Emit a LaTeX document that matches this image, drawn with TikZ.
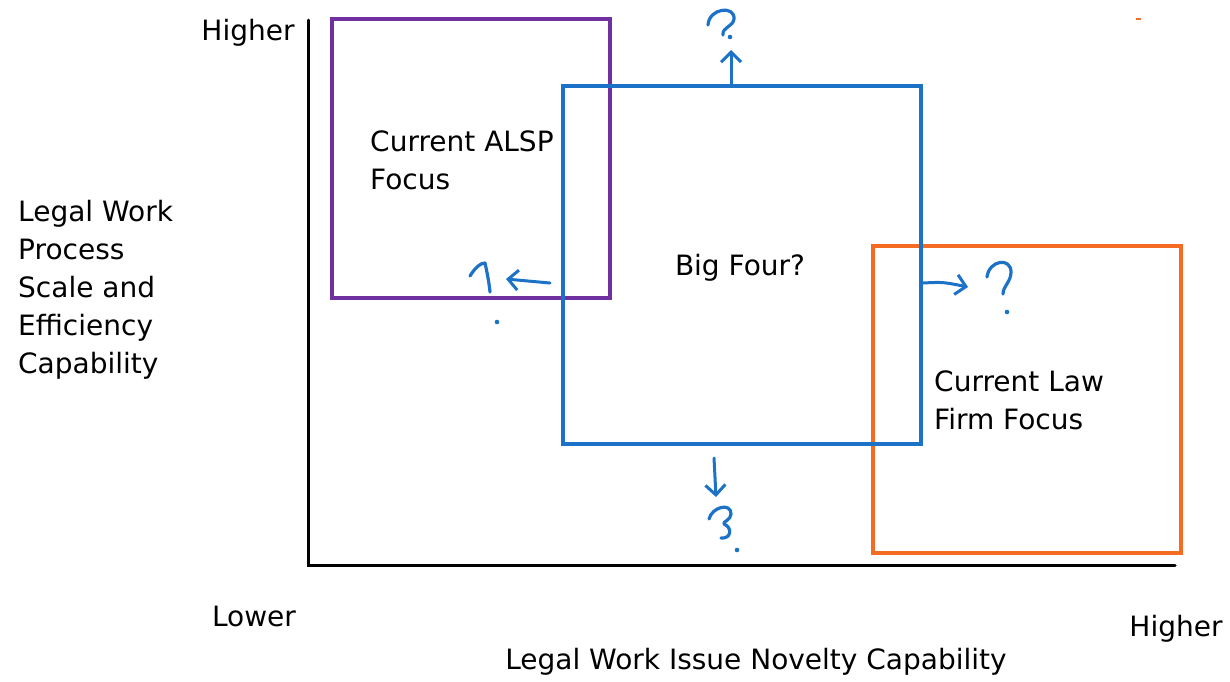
\documentclass[tikz,border=0pt]{standalone}
\usepackage{fontspec}
\setmainfont{DejaVu Sans}
\usetikzlibrary{arrows.meta,calc}
\definecolor{alspc}{HTML}{7030A0}
\definecolor{bigc}{HTML}{1B72C6}
\definecolor{lawc}{HTML}{F36C21}
\begin{document}
\begin{tikzpicture}[x=1pt,y=-1pt,
  lbl/.style={font=\fontsize{28}{38}\selectfont, inner sep=0pt, align=left},
  box/.style={line width=4pt, inner sep=0pt, fill=none},
  axis/.style={line width=3pt, black, line cap=round},
  qarrow/.style={bigc, line width=3pt, line cap=round, line join=round, -{Straight Barb[length=10pt,width=20pt,line width=3pt]}},
  qmark/.style={bigc, line width=3.2pt, line cap=round, line join=round},
  qdot/.style={bigc, fill=bigc, draw=none}]
\useasboundingbox (0,0) rectangle (1230,681);
% axes
\coordinate (ytop) at (308,20);
\coordinate (origin) at (308,565);
\coordinate (xend) at (1175,565);
\draw[axis] (ytop) -- (origin) -- (xend);
% boxes
\node[box, draw=alspc, minimum width=278pt, minimum height=279pt] (alsp) at (471,158.5) {};
\node[box, draw=lawc, minimum width=308pt, minimum height=307pt] (law) at (1027,399.5) {};
\node[box, draw=bigc, minimum width=358pt, minimum height=358pt] (big) at (742,265) {};
% tiny orange mark
\draw[lawc, line width=2pt] (1136,19) -- (1141,19);
% labels
\node[lbl] (yhigh) at (248,33) {Higher};
\node[lbl] (xlow) at (254,616) {Lower};
\node[lbl] (xhigh) at (1176,629) {Higher};
\node[lbl] (xlab) at (756,662) {Legal Work Issue Novelty Capability};
\node[lbl, anchor=west] (ylab) at (18,290) {Legal Work\\Process\\Scale and\\Efficiency\\Capability};
\node[lbl, anchor=west] (alspt) at (370,160) {Current ALSP\\Focus};
\node[lbl] (bigt) at (740,268) {Big Four?};
\node[lbl, anchor=west] (lawt) at (934,400) {Current Law\\Firm Focus};
% arrows out of the Big Four box
\coordinate (tEnd) at (731,50);
\draw[qarrow] ([xshift=-11pt]big.north) -- (tEnd);
\coordinate (lStart) at (550,283);
\coordinate (lEnd) at (506,279);
\draw[qarrow] (lStart) -- (lEnd);
\coordinate (rEnd) at (968,287);
\draw[qarrow] ([yshift=-18pt]big.east) .. controls (943,282) .. (rEnd);
\coordinate (bEnd) at (716,497);
\draw[qarrow] ([xshift=-28pt,yshift=-12pt]big.south) -- (bEnd);
% question marks
\draw[qmark] (708,25) .. controls (709,8) and (735,5) .. (734,19) .. controls (733,27) and (722,27) .. (723,35);
\fill[qdot] (730,37) circle (2.3);
\draw[qmark] (470,276) .. controls (475,268) and (480,263) .. (485,263) .. controls (487,272) and (489,282) .. (490,292);
\fill[qdot] (497,322) circle (2.3);
\draw[qmark] (987,277) .. controls (989,260) and (1011,257) .. (1011,272) .. controls (1011,282) and (1003,286) .. (1003,294);
\fill[qdot] (1007,312) circle (2.3);
\draw[qmark] (709,519) .. controls (712,507) and (731,502) .. (731,514) .. controls (731,520) and (722,522) .. (724,524) .. controls (733,528) and (731,539) .. (721,538);
\fill[qdot] (737,550) circle (2.3);
\end{tikzpicture}
\end{document}
